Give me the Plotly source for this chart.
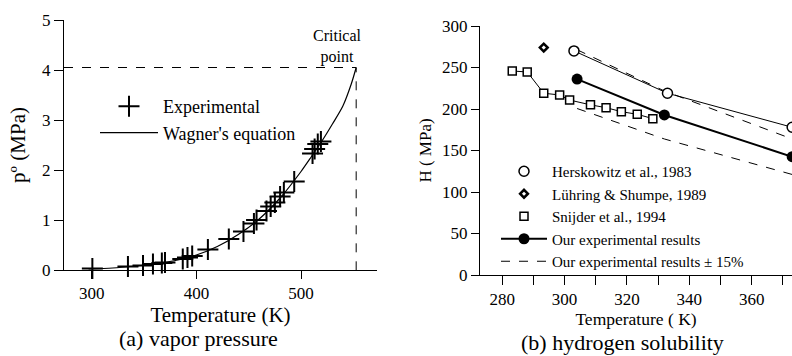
import plotly.graph_objects as go

# ---------------- data: (a) vapor pressure ----------------
exp_T = [300.6, 334.6, 349, 358.5, 367, 370, 387, 391.5, 396, 411, 431, 445, 455, 457.5,
         467, 471, 475, 480, 483.6, 493.5, 511, 513, 516, 519]
exp_p = [0.03, 0.07, 0.09, 0.12, 0.14, 0.15, 0.22, 0.25, 0.28, 0.41, 0.62, 0.77, 0.93, 1.0,
         1.18, 1.27, 1.35, 1.47, 1.55, 1.77, 2.33, 2.42, 2.52, 2.57]
wag_T = [297, 320, 340, 360, 380, 400, 420, 440, 460, 480, 500, 510, 520, 530, 540, 548, 552.7]
wag_p = [0.02, 0.04, 0.075, 0.12, 0.19, 0.30, 0.47, 0.71, 1.02, 1.44, 1.97, 2.27, 2.58, 2.92, 3.28, 3.72, 4.05]
crit_T = 552.7
crit_p = 4.05

# ---------------- data: (b) hydrogen solubility ----------------
hers_T = [303, 333, 373]
hers_H = [270, 219, 178]
luh_T = [293.3]
luh_H = [274]
snij_T = [283.2, 288, 293.3, 298.4, 301.6, 308.3, 313.3, 318.2, 323.3, 328.3]
snij_H = [245.8, 244.6, 219, 216.9, 210.8, 205, 201.6, 196.8, 193.6, 188.4]
our_T = [304, 332, 373]
our_H = [236, 192.8, 142.5]
band = 0.15
our_hi = [h * (1 + band) for h in our_H]
our_lo = [h * (1 - band) for h in our_H]

FONT = "Times New Roman, Liberation Serif, serif"
BLACK = "black"

fig = go.Figure()

# (a)
fig.add_trace(go.Scatter(x=[273.5, crit_T, crit_T], y=[crit_p, crit_p, 0], mode="lines",
                         line=dict(color=BLACK, width=1, dash="dash"), showlegend=False,
                         xaxis="x", yaxis="y", cliponaxis=False))
fig.add_trace(go.Scatter(x=exp_T, y=exp_p, mode="markers", name="Experimental",
                         marker=dict(symbol="cross-thin", size=15, line=dict(color=BLACK, width=2)),
                         xaxis="x", yaxis="y", legend="legend", cliponaxis=False))
fig.add_trace(go.Scatter(x=wag_T, y=wag_p, mode="lines", name="Wagner's equation",
                         line=dict(color=BLACK, width=1.2, shape="spline", smoothing=0.8),
                         xaxis="x", yaxis="y", legend="legend"))

# (b)
fig.add_trace(go.Scatter(x=hers_T, y=hers_H, mode="lines", line=dict(color=BLACK, width=1),
                         showlegend=False, xaxis="x2", yaxis="y2"))
fig.add_trace(go.Scatter(x=snij_T, y=snij_H, mode="lines", line=dict(color=BLACK, width=1),
                         showlegend=False, xaxis="x2", yaxis="y2"))
fig.add_trace(go.Scatter(x=our_T + [None] + our_T, y=our_hi + [None] + our_lo, mode="lines",
                         line=dict(color=BLACK, width=1, dash="dash"), showlegend=False,
                         xaxis="x2", yaxis="y2"))
fig.add_trace(go.Scatter(x=hers_T, y=hers_H, mode="markers", name="Herskowitz et al., 1983",
                         marker=dict(symbol="circle", size=10, color="white",
                                     line=dict(color=BLACK, width=1.5)),
                         xaxis="x2", yaxis="y2", legend="legend2"))
fig.add_trace(go.Scatter(x=luh_T, y=luh_H, mode="markers", name="Lühring &amp; Shumpe, 1989",
                         marker=dict(symbol="diamond", size=6, color="white",
                                     line=dict(color=BLACK, width=2.5)),
                         xaxis="x2", yaxis="y2", legend="legend2"))
fig.add_trace(go.Scatter(x=snij_T, y=snij_H, mode="markers", name="Snijder et al., 1994",
                         marker=dict(symbol="square", size=8, color="white",
                                     line=dict(color=BLACK, width=1.5)),
                         xaxis="x2", yaxis="y2", legend="legend2"))
fig.add_trace(go.Scatter(x=our_T, y=our_H, mode="lines+markers", name="Our experimental results",
                         line=dict(color=BLACK, width=2),
                         marker=dict(symbol="circle", size=11, color=BLACK),
                         xaxis="x2", yaxis="y2", legend="legend2"))
fig.add_trace(go.Scatter(x=[None], y=[None], mode="lines", name="Our experimental results ± 15%",
                         line=dict(color=BLACK, width=1, dash="dash"),
                         xaxis="x2", yaxis="y2", legend="legend2"))

W, H = 792, 356

def px_x(p):
    return p / W

def px_y(p):
    return 1 - p / H

axis_common = dict(showline=True, linecolor=BLACK, linewidth=1, ticks="outside", tickcolor=BLACK,
                   showgrid=False, zeroline=False, mirror=False, automargin=False)

fig.update_layout(
    width=W, height=H, margin=dict(l=0, r=0, t=0, b=0, autoexpand=False),
    paper_bgcolor="white", plot_bgcolor="white",
    font=dict(family=FONT, color=BLACK),
    xaxis=dict(domain=[px_x(64), px_x(377)], range=[273.5, 572.6], tickvals=[300, 400, 500],
               ticklen=8, tickfont=dict(size=17),
               title=dict(text="Temperature (K)", font=dict(size=21), standoff=4),
               anchor="y", **axis_common),
    yaxis=dict(domain=[px_y(270), px_y(20)], range=[0, 5], dtick=1, ticklen=9,
               tickfont=dict(size=17),
               title=dict(text="pº (MPa)", font=dict(size=21), standoff=10),
               anchor="x", **axis_common),
    xaxis2=dict(domain=[px_x(480), 1.0], range=[272.85, 372.95], tick0=280, dtick=20, ticklen=9,
                minor=dict(dtick=10, ticks="outside", ticklen=9, tickcolor=BLACK),
                tickfont=dict(size=17),
                title=dict(text="Temperature ( K)", font=dict(size=17.5), standoff=2),
                anchor="y2", **axis_common),
    yaxis2=dict(domain=[px_y(275), px_y(26)], range=[0, 300], dtick=50, ticklen=8,
                tickfont=dict(size=17),
                title=dict(text="H ( MPa)", font=dict(size=17), standoff=6),
                anchor="x2", **axis_common),
    legend=dict(x=px_x(95), y=px_y(88), xanchor="left", yanchor="top", bgcolor="rgba(0,0,0,0)",
                font=dict(size=18), itemwidth=58, tracegroupgap=0),
    legend2=dict(x=px_x(496), y=px_y(155), xanchor="left", yanchor="top", bgcolor="rgba(0,0,0,0)",
                 font=dict(size=15), itemwidth=46, tracegroupgap=0),
    showlegend=True,
    annotations=[
        dict(text="Critical<br>point", x=crit_T, y=crit_p, xref="x", yref="y", showarrow=False,
             xanchor="right", yanchor="bottom", align="center", xshift=8, yshift=0,
             font=dict(size=16)),
        dict(text="(a) vapor pressure", x=px_x(198), y=px_y(338), xref="paper", yref="paper",
             showarrow=False, font=dict(size=22), xanchor="center", yanchor="middle"),
        dict(text="(b) hydrogen solubility", x=px_x(622), y=px_y(342), xref="paper", yref="paper",
             showarrow=False, font=dict(size=22), xanchor="center", yanchor="middle"),
    ],
)

fig.write_html("out.html")
